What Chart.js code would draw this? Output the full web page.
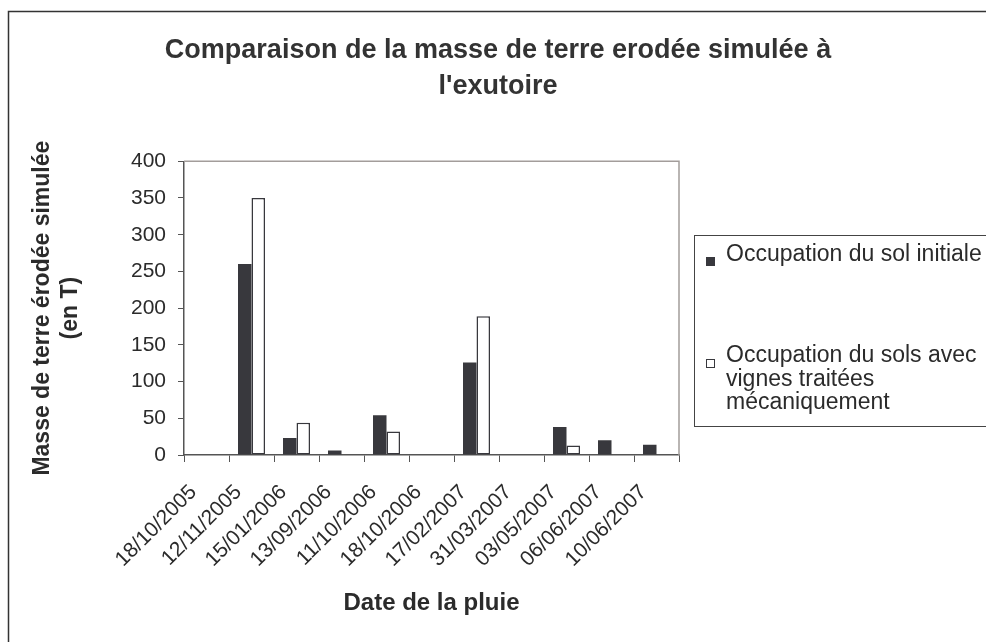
<!DOCTYPE html>
<html>
<head>
<meta charset="utf-8">
<script src="https://cdn.jsdelivr.net/npm/chart.js@4.4.1/dist/chart.umd.min.js"></script>
<style>
  html, body { margin: 0; padding: 0; background: #fff; }
  #erosionChart { display: block; }
</style>
</head>
<body>
<canvas id="erosionChart" width="986" height="642"></canvas>
<script>
// === Data ===
const rainDates = ['18/10/2005', '12/11/2005', '15/01/2006', '13/09/2006', '11/10/2006', '18/10/2006',
                   '17/02/2007', '31/03/2007', '03/05/2007', '06/06/2007', '10/06/2007'];
const solInitial = [null, 260, 23, 6, 54, null, 126, null, 38, 20, 14];
const vignesMeca = [null, 350, 44, null, 32, null, 189, null, 13, null, null];
const yMin = 0, yMax = 400, yStep = 50;

const seriesLines = [
  ['Occupation du sol initiale'],
  ['Occupation du sols avec', 'vignes traitées', 'mécaniquement']
];
const titleLines = ['Comparaison de la masse de terre erodée simulée à', "l'exutoire"];
const yTitleLines = ['Masse de terre érodée simulée', '(en T)'];
const xTitle = 'Date de la pluie';

const FONT = "'Liberation Sans', Arial, sans-serif";
const DARK = '#38383d';
const TEXT = '#2b2b2b';
const AXIS = '#555';

// === Frame, plot border and legend ===
const framePlugin = {
  id: 'frame',
  beforeDraw(chart) {
    const ctx = chart.ctx;
    ctx.save();
    ctx.fillStyle = '#fff';
    ctx.fillRect(0, 0, chart.width, chart.height);
    ctx.strokeStyle = '#333';
    ctx.lineWidth = 1.5;
    ctx.strokeRect(8.5, 11.5, chart.width + 20, chart.height + 20);
    ctx.restore();
  },
  afterDatasetsDraw(chart) {
    const { ctx, chartArea: a } = chart;
    ctx.save();
    ctx.strokeStyle = '#a39d9b';
    ctx.lineWidth = 1.5;
    ctx.beginPath();
    ctx.moveTo(a.left, a.top);
    ctx.lineTo(a.right, a.top);
    ctx.lineTo(a.right, a.bottom);
    ctx.stroke();
    ctx.restore();
  },
  afterDraw(chart) {
    const ctx = chart.ctx;
    ctx.save();
    ctx.strokeStyle = '#444';
    ctx.lineWidth = 1;
    ctx.strokeRect(694.5, 235.5, 320, 191);

    // legend rows: text centre and box top
    const items = [{ y: 255, boxY: 257 }, { y: 356, boxY: 359 }];
    ctx.font = '23px ' + FONT;
    ctx.textBaseline = 'middle';
    chart.data.datasets.forEach((ds, i) => {
      const it = items[i];
      ctx.fillStyle = ds.backgroundColor;
      ctx.fillRect(706, it.boxY, 9, 9);
      ctx.strokeStyle = DARK;
      ctx.lineWidth = 1;
      ctx.strokeRect(706.5, it.boxY + 0.5, 8, 8);
      ctx.fillStyle = TEXT;
      seriesLines[i].forEach((line, j) => {
        ctx.fillText(line, 726, it.y + j * 23.5);
      });
    });
    ctx.restore();
  }
};

// === Chart ===
new Chart(document.getElementById('erosionChart'), {
  type: 'bar',
  data: {
    labels: rainDates,
    datasets: [
      {
        label: seriesLines[0].join(' '),
        data: solInitial,
        backgroundColor: DARK,
        borderWidth: 0,
        categoryPercentage: 0.6,
        barPercentage: 1
      },
      {
        label: seriesLines[1].join(' '),
        data: vignesMeca,
        backgroundColor: '#fff',
        borderColor: DARK,
        borderWidth: 1.5,
        borderSkipped: false,
        categoryPercentage: 0.6,
        barPercentage: 1
      }
    ]
  },
  options: {
    responsive: false,
    animation: false,
    layout: { padding: { left: 29, right: 19, top: 12, bottom: 24 } },
    plugins: {
      legend: { display: false },
      tooltip: { enabled: false },
      title: {
        display: true,
        text: titleLines,
        color: '#333',
        font: { family: FONT, size: 27, weight: 'bold', lineHeight: 1.32 },
        padding: { top: 21, bottom: 57 }
      }
    },
    scales: {
      x: {
        grid: { drawOnChartArea: false, drawTicks: true, tickLength: 7, color: AXIS, offset: true },
        border: { color: AXIS, width: 1.5 },
        ticks: {
          color: TEXT,
          font: { family: FONT, size: 21 },
          minRotation: 45,
          maxRotation: 45,
          autoSkip: false,
          padding: 18,
          labelOffset: -13
        },
        title: {
          display: true,
          text: xTitle,
          color: TEXT,
          font: { family: FONT, size: 24, weight: 'bold', lineHeight: 1.2 },
          padding: 0
        },
        afterFit: s => { s.height = 163; }
      },
      y: {
        min: yMin,
        max: yMax,
        grid: { drawOnChartArea: false, drawTicks: true, tickLength: 6, color: AXIS },
        border: { color: AXIS, width: 1.5 },
        ticks: {
          stepSize: yStep,
          color: TEXT,
          font: { family: FONT, size: 21 },
          padding: 12
        },
        title: {
          display: true,
          text: yTitleLines,
          color: TEXT,
          font: { family: FONT, size: 23, weight: 'bold', lineHeight: 1.2 },
          padding: 0
        },
        afterFit: s => { s.width = 155; }
      },
      spacer: {
        position: 'right',
        display: true,
        grid: { display: false },
        border: { display: false },
        ticks: { display: false },
        afterFit: s => { s.width = 288; }
      }
    }
  },
  plugins: [framePlugin]
});
</script>
</body>
</html>
